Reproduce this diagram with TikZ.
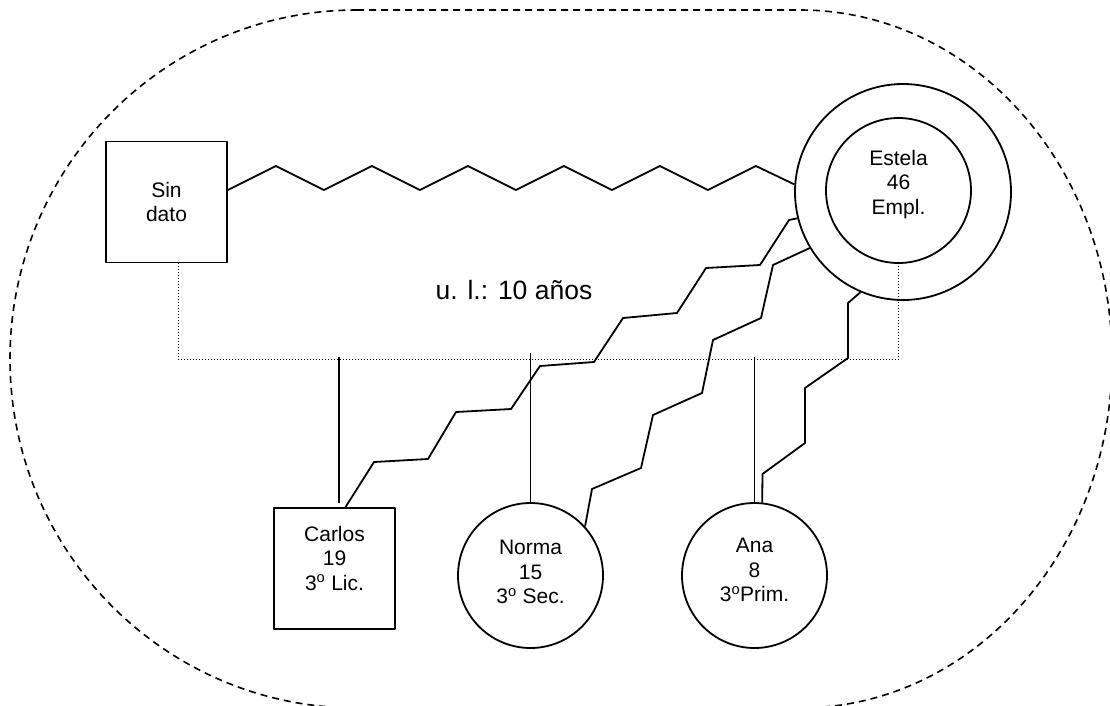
\documentclass[tikz,border=0pt]{standalone}
\usepackage{fontspec}
\setmainfont{Liberation Sans}
\usetikzlibrary{calc}

\tikzstyle{every node}=[font=\fontsize{21}{24.5}\selectfont, align=center]
\tikzstyle{bond}=[line width=1.8pt, line join=round]
\tikzstyle{male}=[draw, rectangle, bond, minimum width=121pt, minimum height=121pt]
\tikzstyle{female}=[draw, circle, bond, inner sep=0pt, minimum size=145pt]
\tikzstyle{parents}=[line width=1pt, dash pattern=on 1pt off 2pt]
\tikzstyle{household}=[line width=1.6pt, dash pattern=on 7pt off 5pt]
\tikzstyle{caption}=[font=\fontsize{26.5}{30}\selectfont]

\begin{document}
\begin{tikzpicture}[x=1pt, y=-1pt]
\useasboundingbox (0,0) rectangle (1110,705);

% household boundary
\draw[household] (357,10) -- (800,10)
  arc[start angle=-90, end angle=0, x radius=312, y radius=349]
  arc[start angle=0, end angle=90, x radius=312, y radius=349]
  -- (357,708)
  arc[start angle=90, end angle=180, x radius=347, y radius=349]
  arc[start angle=180, end angle=270, x radius=347, y radius=349] -- cycle;

% parents
\node[male] (SinDato) at (166.5,202) {Sin\\dato};
\node[draw, circle, bond, inner sep=0pt, minimum size=216pt] (Estela) at (903,192) {};
\node[female] (EstelaIn) at (898.5,190.5) {};
\node (EstelaTxt) at ([yshift=6pt]EstelaIn.center) {Estela\\46\\Empl.};

% children
\node[male] (Carlos) at (334.5,568.5) {};
\node (CarlosTxt) at ([yshift=10.5pt]Carlos.center) {Carlos\\19\\3\textsuperscript{o} Lic.};
\node[female] (Norma) at (530.5,575.5) {};
\node (NormaTxt) at ([yshift=3.5pt]Norma.center) {Norma\\15\\3\textsuperscript{o} Sec.};
\node[female] (Ana) at (754.5,575.5) {};
\node (AnaTxt) at ([yshift=5.5pt]Ana.center) {Ana\\8\\3\textsuperscript{o}Prim.};

\node[caption] (Union) at (514,290) {u. l.: 10 años};

% conflict between the parents
\draw[bond] ([yshift=12pt]SinDato.east)
  \foreach \k in {1,...,5} { -- ++(48,-24) -- ++(48,24) }
  -- ++(48,-24) -- (Estela.176);

% union line and descent
\draw[parents] ([xshift=11.5pt]SinDato.south) -- ++(0,96) -| (EstelaIn.south);
\draw[bond] ([shift={(4.5pt,4pt)}]Carlos.north) -- ++(0,-146);
\draw[bond] (Norma.north) -- ++(0,-149);
\draw[bond] (Ana.north) -- ++(0,-145);

% mother and children
\draw[bond] ([xshift=11pt]Carlos.north) -- (374,462) -- (428,459) -- (456,412)
  -- (511,409) -- (540,366) -- (594,362) -- (623,318) -- (677,313)
  -- (706,268) -- (760,265) -- (789,220) -- (Estela.194);
\draw[bond] (Norma.42) -- (592,489) -- (641,468) -- (653,415) -- (702,393)
  -- (713,340) -- (761,318) -- (773,265) -- (Estela.211);
\draw[bond] (Ana.84) -- (762.5,474) -- (805,443) -- (805,388) -- (848,358)
  -- (848,303) -- (Estela.247);

\end{tikzpicture}
\end{document}
